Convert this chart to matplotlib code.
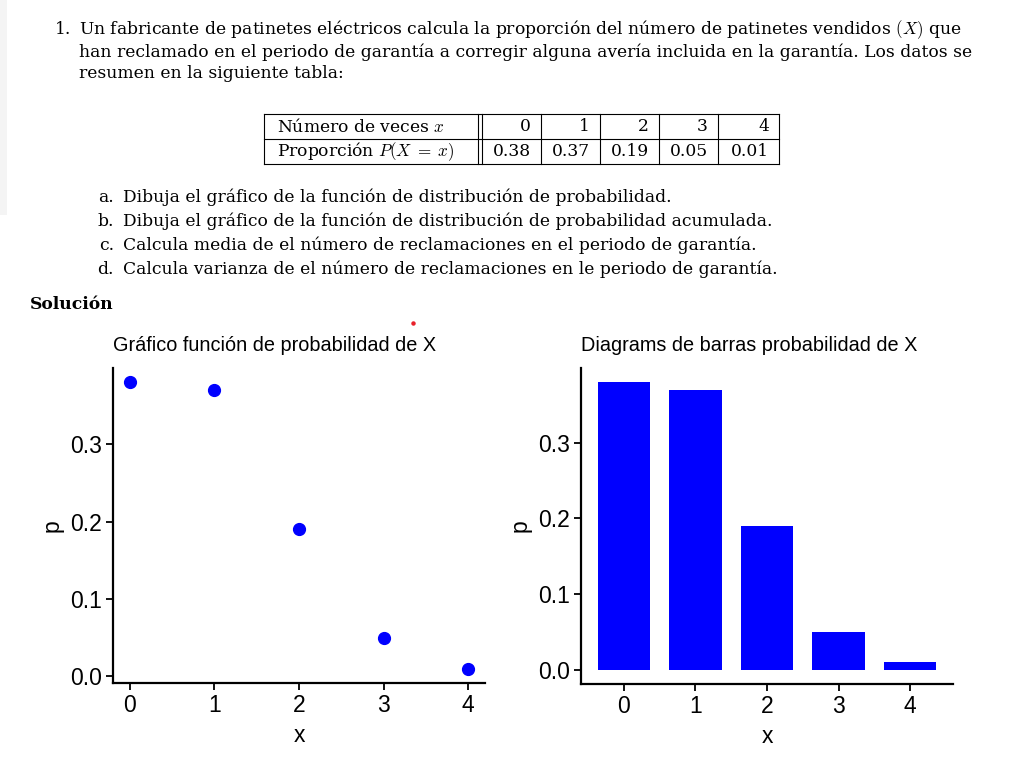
import numpy as np
import matplotlib.pyplot as plt
from matplotlib.lines import Line2D
from matplotlib.patches import Rectangle

# datos de la tabla
x_vals = [0, 1, 2, 3, 4]
probs = [0.38, 0.37, 0.19, 0.05, 0.01]

enunciado = [
    "Un fabricante de patinetes eléctricos calcula la proporción del número de patinetes vendidos $(X)$ que",
    "han reclamado en el periodo de garantía a corregir alguna avería incluida en la garantía. Los datos se",
    "resumen en la siguiente tabla:",
]
items = ["a.", "b.", "c.", "d."]
preguntas = [
    "Dibuja el gráfico de la función de distribución de probabilidad.",
    "Dibuja el gráfico de la función de distribución de probabilidad acumulada.",
    "Calcula media de el número de reclamaciones en el periodo de garantía.",
    "Calcula varianza de el número de reclamaciones en le periodo de garantía.",
]
titulo1 = "Gráfico función de probabilidad de X"
titulo2 = "Diagrams de barras probabilidad de X"

W, H = 1034, 772
plt.rcParams['mathtext.fontset'] = 'cm'
serif = 'DejaVu Serif'
sans = 'Liberation Sans'

fig = plt.figure(figsize=(W / 100, H / 100), dpi=100)


def px(x, y):
    return x / W, 1 - y / H


def hline(x0, x1, y):
    fig.add_artist(Line2D([x0 / W, x1 / W], [1 - y / H, 1 - y / H], color='black', lw=0.8))


def vline(x, y0, y1):
    fig.add_artist(Line2D([x / W, x / W], [1 - y0 / H, 1 - y1 / H], color='black', lw=0.8))


# sombra gris del borde izquierdo
fig.add_artist(Rectangle(px(0, 215), 7 / W, 215 / H, color='#f4f4f4', lw=0))

# enunciado
fs = 12.3
fig.text(*px(55, 30), "1.", family=serif, fontsize=fs, va='center')
for i, linea in enumerate(enunciado):
    fig.text(*px(79, 30 + i * 22), linea, family=serif, fontsize=fs, va='center')

# tabla
top, mid, bot = 114, 139, 164
lft, dbl1, dbl2 = 264, 478, 482
cols = [482, 541, 600, 659, 718, 779]
hline(lft, cols[-1], top)
hline(lft, cols[-1], mid)
hline(lft, cols[-1], bot)
for xv in [lft, dbl1, dbl2] + cols[1:]:
    vline(xv, top, bot)
fig.text(*px(277, 126.5), "Número de veces $x$", family=serif, fontsize=fs, va='center')
fig.text(*px(277, 151.5), r"Proporción $P(X\;=\;x)$", family=serif, fontsize=fs, va='center')
for k in range(len(x_vals)):
    fig.text(*px(cols[k + 1] - 10, 126.5), str(x_vals[k]), family=serif, fontsize=fs,
             va='center', ha='right')
    fig.text(*px(cols[k + 1] - 10, 151.5), "%.2f" % probs[k], family=serif, fontsize=fs,
             va='center', ha='right')

# apartados
for i in range(len(items)):
    yy = 197 + i * 24
    fig.text(*px(114, yy), items[i], family=serif, fontsize=fs, va='center', ha='right')
    fig.text(*px(123, yy), preguntas[i], family=serif, fontsize=fs, va='center')

fig.text(*px(30, 304), "Solución", family=serif, fontsize=fs, va='center', weight='bold')

# punto rojo suelto
fig.add_artist(Line2D([413 / W], [1 - 323 / H], marker='o', markersize=2.2, color='#e8202a', lw=0))


def estilo(ax):
    for s in ['top', 'right']:
        ax.spines[s].set_visible(False)
    for s in ['left', 'bottom']:
        ax.spines[s].set_linewidth(1.6)
    ax.tick_params(direction='out', length=5, width=1.3, labelsize=16.5, pad=3)
    ax.set_yticks([0.0, 0.1, 0.2, 0.3])
    ax.set_yticklabels(['0.0', '0.1', '0.2', '0.3'], family=sans)
    ax.set_xticks(x_vals)
    ax.set_xticklabels([str(v) for v in x_vals], family=sans)
    ax.set_xlabel('x', family=sans, fontsize=16.5, labelpad=5)
    ax.set_ylabel('p', family=sans, fontsize=16.5, labelpad=5)


# gráfico de puntos
ax1 = fig.add_axes([113 / W, 1 - 683 / H, 372 / W, 315 / H])
ax1.plot(x_vals, probs, 'o', color='#0000ff', markersize=8.5)
ax1.set_xlim(-0.2, 4.2)
rng = max(probs) - min(probs)
ax1.set_ylim(min(probs) - 0.05 * rng, max(probs) + 0.05 * rng)
estilo(ax1)
ax1.set_title(titulo1, family=sans, fontsize=14.3, pad=12, loc='left')

# diagrama de barras
ax2 = fig.add_axes([581 / W, 1 - 684 / H, 372 / W, 316 / H])
ax2.bar(x_vals, probs, width=0.73, color='#0000ff')
ax2.set_xlim(-0.6, 4.6)
ax2.set_ylim(-0.05 * max(probs), max(probs) * 1.05)
estilo(ax2)
ax2.set_title(titulo2, family=sans, fontsize=14.3, pad=12, loc='left')

fig.savefig('out.png', dpi=100)
